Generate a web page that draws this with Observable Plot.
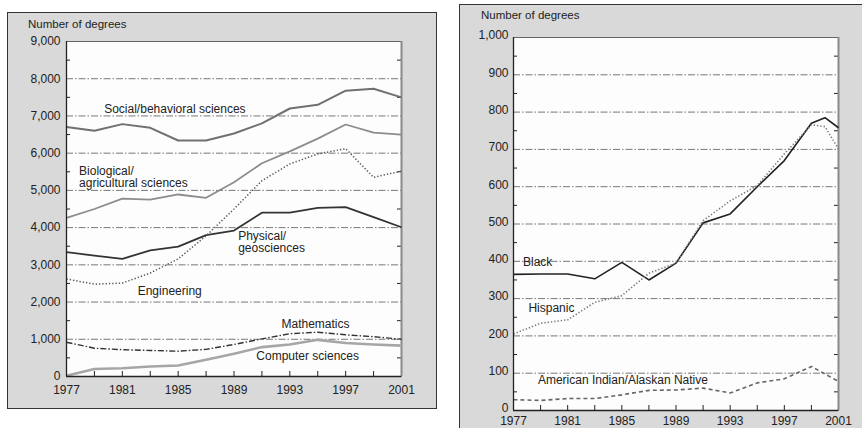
<!DOCTYPE html>
<html><head><meta charset="utf-8">
<script src="https://cdn.jsdelivr.net/npm/d3@7"></script>
<script src="https://cdn.jsdelivr.net/npm/@observablehq/plot@0.6"></script>
<style>
body{margin:0;background:#fff;width:862px;height:428px;overflow:hidden;position:relative;font-family:"Liberation Sans",Arial,sans-serif;}
.box{position:absolute;background:#d9d9d9;border:1.5px solid #333;box-sizing:border-box;}
.ytitle{position:absolute;font-size:11.5px;color:#222;white-space:nowrap;}
.chart{position:absolute;top:0;}
</style></head><body>
<div class="box" style="left:7px;top:12px;width:430px;height:397px"></div>
<div class="box" style="left:459px;top:4px;width:420px;height:440px"></div>
<div class="ytitle" style="left:28px;top:18px">Number of degrees</div>
<div class="ytitle" style="left:481px;top:9px">Number of degrees</div>
<div id="left" class="chart" style="left:0"></div>
<div id="right" class="chart" style="left:440px"></div>
<script>
// ---------- Left panel data ----------
const yearsL = [1977,1979,1981,1983,1985,1987,1989,1991,1993,1995,1997,1999,2001];
const social      = [6700,6600,6780,6680,6340,6340,6530,6800,7200,7300,7680,7730,7500];
const biological  = [4260,4500,4780,4750,4890,4800,5220,5730,6050,6390,6770,6550,6500];
const physical    = [3340,3250,3160,3390,3490,3800,3920,4400,4400,4530,4550,4280,4010];
const engineering = [2620,2480,2510,2780,3160,3780,4500,5260,5710,5980,6120,5350,5520];
const mathematics = [920,760,720,700,680,730,860,1010,1150,1190,1120,1070,1000];
const computer    = [20,200,220,270,295,450,610,790,860,985,900,860,830];
const yTicksL = [0,1000,2000,3000,4000,5000,6000,7000,8000,9000];
const yMinorL = [500,1500,2500,3500,4500,5500,6500,7500,8500];
const gridL = [1000,2000,3000,4000,5000,6000,7000,8000];
const xLabelsL = [1977,1981,1985,1989,1993,1997,2001];
const xTicksL = [1977,1979,1981,1983,1985,1987,1989,1991,1993,1995,1997,1999,2001];
const labelTextL = ["Social/behavioral sciences","Biological/\nagricultural sciences","Physical/\ngeosciences","Engineering","Mathematics","Computer sciences"];
const labelXL = [1979.7,1977.9,1989.3,1982.1,1992.4,1990.6];
const labelYL = [7200,5364,3618,2292,1416,564];

// ---------- Right panel data ----------
const yearsR = [1977,1979,1981,1983,1985,1987,1989,1991,1993,1995,1997,1999,2000,2001];
const black    = [365,366,366,353,397,350,395,503,527,600,670,770,785,758];
const hispanic = [205,234,243,290,308,368,395,509,562,603,688,766,761,701];
const amind    = [29,27,32,32,42,54,55,60,47,74,85,118,98,78];
const yTicksR = [0,100,200,300,400,500,600,700,800,900,1000];
const yMinorR = [50,150,250,350,450,550,650,750,850,950];
const gridR = [100,200,300,400,500,600,700,800,900];
const xLabelsR = [1977,1981,1985,1989,1993,1997,2001];
const xTicksR = [1977,1979,1981,1983,1985,1987,1989,1991,1993,1995,1997,1999,2001];
const labelTextR = ["Black","Hispanic","American Indian/Alaskan Native"];
const labelXR = [1977.7,1978.1,1978.8];
const labelYR = [397,275,82];

// ---------- styles ----------
const stylesL = [
  {name:"Social", values:social, stroke:"#707070", w:2, dash:null},
  {name:"Biological", values:biological, stroke:"#8c8c8c", w:1.8, dash:null},
  {name:"Physical", values:physical, stroke:"#333", w:1.8, dash:null},
  {name:"Engineering", values:engineering, stroke:"#555", w:1.5, dash:"1.3,2"},
  {name:"Mathematics", values:mathematics, stroke:"#333", w:1.4, dash:"6,2,1.5,2"},
  {name:"Computer", values:computer, stroke:"#a6a6a6", w:2.6, dash:null}
];
const stylesR = [
  {name:"Black", values:black, stroke:"#222", w:1.6, dash:null},
  {name:"Hispanic", values:hispanic, stroke:"#777", w:1.6, dash:"1.3,2"},
  {name:"AmInd", values:amind, stroke:"#666", w:1.6, dash:"4,3"}
];

const font = "Liberation Sans, Arial, sans-serif";
const gridStyle = {stroke:"#555", strokeWidth:0.8, strokeDasharray:"7,2,1.5,2"};

function panel({years, styles, yDomain, yTicks, yMinor, grid, xLabels, xTicks, labels,
                width, height, ml, mr, mt, mb, yPad, xPad, yDy}) {
  const pw = width - ml - mr, ph = height - mt - mb;
  const lineMarks = styles.map(s => Plot.line(
    years.map((y,i)=>({year:y, value:s.values[i]})),
    {x:"year", y:"value", stroke:s.stroke, strokeWidth:s.w, strokeDasharray:s.dash, strokeLinecap:"butt", curve:"linear"}));
  return Plot.plot({
    width, height, marginLeft:ml, marginRight:mr, marginTop:mt, marginBottom:mb,
    style:{background:"transparent", fontFamily:font, fontSize:"12px", color:"#222", overflow:"visible"},
    x:{domain:[1977,2001]},
    y:{domain:yDomain},
    marks:[
      Plot.frame({fill:"#fdfdfd", stroke:"#666"}),
      Plot.ruleY(grid, gridStyle),
      Plot.tickY(yMinor, {stroke:"#222", insetRight: pw-4}),
      Plot.tickY(yMinor, {stroke:"#222", insetLeft: pw-4}),
      Plot.tickX(xTicks, {stroke:"#222", insetTop: ph-5}),
      Plot.ruleX([2001], {stroke:"#8a8a8a", strokeWidth:2}),
      ...lineMarks,
      Plot.ruleX([1977], {stroke:"#222", strokeWidth:1.3}),
      Plot.ruleY([0], {stroke:"#222", strokeWidth:1.3}),
      Plot.text(labels, {x:"x", y:"y", text:"text", textAnchor:"start", lineAnchor:"middle",
        fontSize:12, lineHeight:1.06, fill:"#222"}),
      Plot.axisY({ticks:yTicks, tickSize:0, tickPadding:yPad, tickFormat:d3.format(","), label:null, fontSize:12, dy:yDy}),
      Plot.axisX({ticks:xLabels, tickSize:0, tickPadding:xPad, tickFormat:"d", label:null, fontSize:12})
    ]
  });
}

const labelsL = labelTextL.map((t,i)=>({text:t, x:labelXL[i], y:labelYL[i]}));
const labelsR = labelTextR.map((t,i)=>({text:t, x:labelXR[i], y:labelYR[i]}));

document.getElementById("left").append(panel({
  years:yearsL, styles:stylesL, yDomain:[0,9000], yTicks:yTicksL, yMinor:yMinorL, grid:gridL,
  xLabels:xLabelsL, xTicks:xTicksL, labels:labelsL,
  width:437, height:410, ml:66, mr:36, mt:41, mb:34, yPad:6, xPad:9, yDy:0
}));
document.getElementById("right").append(panel({
  years:yearsR, styles:stylesR, yDomain:[0,1000], yTicks:yTicksR, yMinor:yMinorR, grid:gridR,
  xLabels:xLabelsR, xTicks:xTicksR, labels:labelsR,
  width:422, height:428, ml:73, mr:24, mt:37, mb:18, yPad:5, xPad:6, yDy:-2
}));
</script>
</body></html>
